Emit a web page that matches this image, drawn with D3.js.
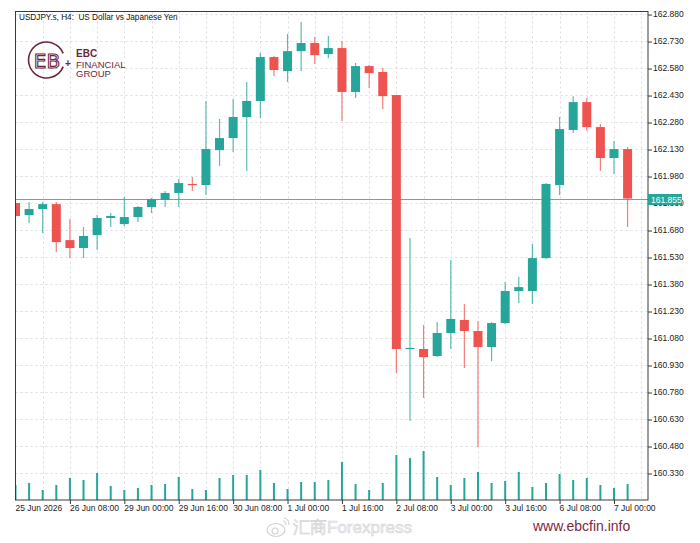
<!DOCTYPE html>
<html>
<head>
<meta charset="utf-8">
<script src="https://cdn.jsdelivr.net/npm/d3@7"></script>
<style>
  body { margin: 0; background: #fff; }
  svg { display: block; font-family: "Liberation Sans", Arial, sans-serif; }
</style>
</head>
<body>
<svg id="chart"></svg>
<script>
// USDJPY H4 candles, 25 Jun 16:00 .. 7 Jul 04:00
const openP = [161.830, 161.763, 161.797, 161.824, 161.624, 161.580, 161.652, 161.747, 161.713, 161.752,
  161.808, 161.847, 161.886, 161.936, 161.930, 162.124, 162.191, 162.308, 162.397, 162.641,
  162.563, 162.674, 162.719, 162.658, 162.691, 162.447, 162.591, 162.558, 162.430, 161.019,
  161.019, 160.980, 161.108, 161.180, 161.119, 161.030, 161.163, 161.341, 161.341, 161.524,
  161.930, 162.236, 162.391, 162.252, 162.080, 162.130];
const highP = [161.841, 161.836, 161.836, 161.836, 161.741, 161.697, 161.763, 161.774, 161.863, 161.813,
  161.858, 161.897, 161.963, 161.974, 162.397, 162.297, 162.408, 162.502, 162.663, 162.647,
  162.769, 162.836, 162.752, 162.758, 162.730, 162.608, 162.597, 162.580, 162.432, 161.636,
  161.152, 161.169, 161.513, 161.269, 161.174, 161.169, 161.391, 161.419, 161.602, 161.941,
  162.308, 162.424, 162.413, 162.269, 162.174, 162.141];
const lowP = [161.747, 161.719, 161.663, 161.558, 161.524, 161.524, 161.569, 161.697, 161.702, 161.724,
  161.774, 161.808, 161.808, 161.897, 161.874, 162.036, 162.113, 162.008, 162.302, 162.536,
  162.502, 162.563, 162.602, 162.636, 162.286, 162.413, 162.469, 162.352, 160.886, 160.619,
  160.747, 160.974, 161.019, 160.913, 160.474, 160.952, 161.158, 161.274, 161.269, 161.519,
  161.874, 162.219, 162.230, 162.008, 161.991, 161.697];
const closeP = [161.758, 161.797, 161.824, 161.613, 161.580, 161.647, 161.747, 161.758, 161.752, 161.808,
  161.852, 161.886, 161.941, 161.930, 162.130, 162.191, 162.308, 162.397, 162.641, 162.569,
  162.674, 162.719, 162.652, 162.691, 162.447, 162.591, 162.552, 162.424, 161.019, 161.025,
  160.974, 161.108, 161.186, 161.119, 161.030, 161.163, 161.341, 161.363, 161.524, 161.936,
  162.241, 162.391, 162.252, 162.080, 162.130, 161.855];
const volumes = [1500, 1700, 1000, 1500, 2200, 2000, 2700, 1400, 1000, 1200,
  1500, 1600, 2300, 1100, 1000, 2200, 2500, 2500, 3000, 1700,
  1100, 1800, 1800, 2000, 3800, 1600, 1000, 1700, 4500, 4200,
  4900, 2300, 1500, 2200, 2800, 1700, 1900, 2800, 1300, 1700,
  2600, 2000, 2200, 1500, 1200, 1600];

const xTickIdx = [0, 4, 8, 12, 16, 20, 24, 28, 32, 36, 40, 44];
const xTickLabels = ["25 Jun 2026", "26 Jun 08:00", "29 Jun 00:00", "29 Jun 16:00", "30 Jun 08:00",
  "1 Jul 00:00", "1 Jul 16:00", "2 Jul 08:00", "3 Jul 00:00", "3 Jul 16:00", "6 Jul 08:00", "7 Jul 00:00"];
const yTicks = [162.880, 162.730, 162.580, 162.430, 162.280, 162.130, 161.980, 161.830, 161.680,
  161.530, 161.380, 161.230, 161.080, 160.930, 160.780, 160.630, 160.480, 160.330];
const gridIdx = [0, 2, 4, 6, 8, 10, 12, 14, 16, 18, 20, 22, 24, 26, 28, 30, 32, 34, 36, 38, 40, 42, 44, 46];
const lastPrice = 161.855;

const width = 700;
const height = 543;
const pLeft = 15.5, pRight = 648, pTop = 11.5, pBottom = 500;
const up = "#26a69a", down = "#ef5350", maroon = "#6e2639";

const svg = d3.select("#chart").attr("width", width).attr("height", height);

const x = d3.scaleLinear().domain([0, 46.5]).range([pLeft, pRight]);
const y = d3.scaleLinear().domain([160.180, 162.897]).range([pBottom, 11]);
const vy = d3.scaleLinear().domain([0, 5000]).range([pBottom, 450]);

svg.append("defs").append("clipPath").attr("id", "plot")
  .append("rect").attr("x", pLeft).attr("y", pTop).attr("width", pRight - pLeft).attr("height", pBottom - pTop);

// grid
const grid = svg.append("g").attr("stroke", "#dcdcdc").attr("stroke-dasharray", "2,3");
grid.selectAll("line.h").data(yTicks).enter().append("line")
  .attr("x1", pLeft).attr("x2", pRight)
  .attr("y1", d => Math.round(y(d)) + 0.5).attr("y2", d => Math.round(y(d)) + 0.5);
grid.selectAll("line.v").data(gridIdx.filter(i => x(i) > pLeft + 2 && x(i) < pRight - 2)).enter().append("line")
  .attr("x1", d => Math.round(x(d)) + 0.5).attr("x2", d => Math.round(x(d)) + 0.5)
  .attr("y1", pTop).attr("y2", pBottom);

// logo
const logo = svg.append("g");
const arc = d3.arc().innerRadius(17.2).outerRadius(18.8)
  .startAngle(Math.PI * 0.62).endAngle(Math.PI * 2.38);
logo.append("path").attr("d", arc()).attr("transform", "translate(46.5,60)").attr("fill", maroon);
logo.append("text").attr("x", 47).attr("y", 68).attr("text-anchor", "middle")
  .attr("font-family", "DejaVu Sans").attr("font-size", 20).attr("fill", "none")
  .attr("stroke", maroon).attr("stroke-width", 1.1).text("EB");
logo.append("text").attr("x", 68).attr("y", 67).attr("text-anchor", "middle")
  .attr("font-size", 10).attr("font-weight", "bold").attr("fill", maroon).text("+");
logo.append("text").attr("x", 76).attr("y", 57).attr("font-size", 10).attr("font-weight", "bold")
  .attr("fill", maroon).text("EBC");
logo.append("text").attr("x", 76).attr("y", 67.5).attr("font-size", 9.5).attr("fill", maroon).text("FINANCIAL");
logo.append("text").attr("x", 76).attr("y", 77).attr("font-size", 9.5).attr("fill", maroon).text("GROUP");

const plot = svg.append("g").attr("clip-path", "url(#plot)");

// volumes
plot.selectAll("line.vol").data(volumes).enter().append("line")
  .attr("x1", (d, i) => x(i)).attr("x2", (d, i) => x(i))
  .attr("y1", vy(0)).attr("y2", d => vy(d))
  .attr("stroke", up).attr("stroke-width", 2);

// current price line
plot.append("line").attr("x1", pLeft).attr("x2", pRight)
  .attr("y1", Math.round(y(lastPrice)) + 0.5).attr("y2", Math.round(y(lastPrice)) + 0.5)
  .attr("stroke", "#4db6a8");

// candles
const candles = plot.selectAll("g.candle").data(openP).enter().append("g");
candles.append("line")
  .attr("x1", (d, i) => x(i)).attr("x2", (d, i) => x(i))
  .attr("y1", (d, i) => y(highP[i])).attr("y2", (d, i) => y(lowP[i]))
  .attr("stroke", (d, i) => closeP[i] >= d ? up : down)
  .attr("stroke-opacity", 0.75)
  .attr("stroke-width", 1.2);
candles.append("rect")
  .attr("x", (d, i) => x(i) - 4.5).attr("width", 9)
  .attr("y", (d, i) => y(Math.max(d, closeP[i])))
  .attr("height", (d, i) => Math.max(1.2, Math.abs(y(d) - y(closeP[i]))))
  .attr("fill", (d, i) => closeP[i] >= d ? up : down);

// frame
svg.append("rect").attr("x", pLeft).attr("y", pTop).attr("width", pRight - pLeft).attr("height", pBottom - pTop)
  .attr("fill", "none").attr("stroke", "#3a3a3a");

// axes
const yAxis = d3.axisRight(y).tickValues(yTicks).tickFormat(d3.format(".3f")).tickSize(4).tickSizeOuter(0).tickPadding(1);
const gy = svg.append("g").attr("transform", `translate(${pRight},0)`).call(yAxis);
const xAxis = d3.axisBottom(x).tickValues(xTickIdx).tickFormat((d, i) => xTickLabels[i]).tickSize(4).tickSizeOuter(0).tickPadding(1);
const gx = svg.append("g").attr("transform", `translate(0,${pBottom})`).call(xAxis);
[gx, gy].forEach(g => {
  g.select(".domain").remove();
  g.selectAll(".tick line").attr("stroke", "#3a3a3a");
  g.selectAll("text").attr("fill", "#222").attr("font-size", 8.5)
    .attr("font-family", "Liberation Sans, Arial, sans-serif");
});
gx.selectAll("text").attr("text-anchor", "start").attr("x", -0.5);
gx.selectAll(".tick").filter(d => d === 0).select("line").remove();
gy.selectAll(".tick line").attr("transform", "translate(0,0.5)");

// last price tag (covers the 161.830 label, as in the terminal)
const tagY = Math.round(y(lastPrice));
svg.append("rect").attr("x", pRight).attr("y", tagY - 5).attr("width", 34).attr("height", 11).attr("fill", up);
svg.append("text").attr("x", pRight + 3).attr("y", tagY + 3.5).attr("font-size", 8.5).attr("fill", "#fff")
  .text(lastPrice.toFixed(3));

// title
svg.append("text").attr("x", 19).attr("y", 20).attr("font-size", 8.2).attr("fill", "#111")
  .style("white-space", "pre")
  .text("USDJPY.s, H4:  US Dollar vs Japanese Yen");

// watermarks
const wb = svg.append("g").attr("fill", "none").attr("stroke", "#d4d4d4").attr("stroke-width", 1.2);
wb.append("ellipse").attr("cx", 276).attr("cy", 530).attr("rx", 9).attr("ry", 6.5);
wb.append("circle").attr("cx", 275).attr("cy", 531).attr("r", 3);
wb.append("path").attr("d", "M284,518 q5,1 5,7 M283,521 q3,0 3,4");
svg.append("text").attr("x", 293).attr("y", 533).attr("font-size", 17)
  .attr("fill", "#f0f0f0").attr("stroke", "#d4d4d4").attr("stroke-width", 0.6)
  .text("汇商Forexpress");
svg.append("text").attr("x", 533).attr("y", 531).attr("font-size", 14).attr("fill", "#7a2a3d")
  .text("www.ebcfin.info");
</script>
</body>
</html>
